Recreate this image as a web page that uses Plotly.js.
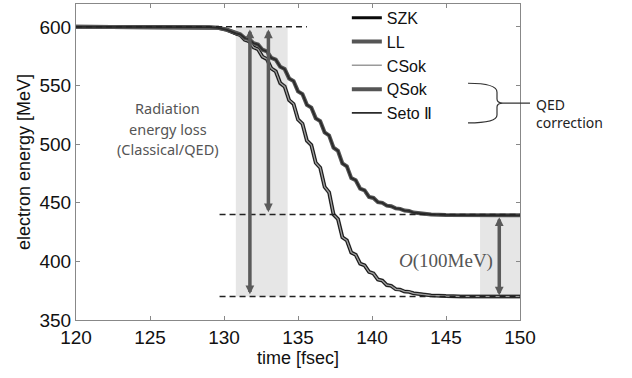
<!DOCTYPE html>
<html>
<head>
<meta charset="utf-8">
<script src="https://cdn.plot.ly/plotly-3.0.1.min.js"></script>
<style>html,body{margin:0;padding:0;background:#fff;}#chart{width:632px;height:378px;}</style>
</head>
<body>
<div id="chart"></div>
<script>
// time axis [fsec]
const timeFs = [120, 128.0, 129.0, 129.6, 130.2, 130.8, 131.1, 131.4, 131.7, 132.0, 132.3, 132.6, 132.9, 133.2, 133.5, 133.8, 134.1, 134.4, 134.7, 135.0, 135.3, 135.6, 135.9, 136.2, 136.5, 136.8, 137.1, 137.4, 137.7, 138.0, 138.3, 138.6, 138.9, 139.2, 139.5, 139.8, 140.1, 140.4, 140.7, 141.0, 141.3, 141.6, 141.9, 142.2, 142.5, 142.8, 143.4, 144.0, 145.0, 146.0, 150];
// classical radiation reaction (SZK, LL, CSok) [MeV]
const classicalEnergy = [600, 600, 599.8, 599.2, 597.5, 594.0, 593.0, 589.0, 587.7, 582.5, 580.9, 574.5, 572.5, 564.5, 562.0, 552.0, 549.1, 537.5, 534.2, 521.0, 517.4, 503.0, 499.2, 484.0, 479.9, 463.5, 458.8, 440.0, 436.1, 420.5, 417.9, 407.5, 405.6, 398.0, 396.6, 391.0, 389.7, 384.5, 383.6, 379.8, 379.1, 376.3, 375.9, 374.3, 374.0, 372.8, 371.8, 371.0, 370.4, 370.1, 370.0];
// QED corrected (QSok, Seto II) [MeV]
const qedEnergy = [600, 600, 599.8, 599.2, 597.5, 594.5, 593.7, 590.5, 589.6, 586.0, 584.9, 580.5, 579.1, 573.5, 572.0, 566.0, 564.0, 556.0, 553.8, 545.0, 542.7, 533.5, 531.2, 522.0, 519.6, 510.0, 507.4, 497.0, 494.3, 483.5, 481.0, 471.0, 469.2, 462.0, 460.6, 455.0, 454.1, 450.5, 449.9, 447.5, 447.0, 445.2, 444.8, 443.3, 443.0, 441.6, 440.6, 440.0, 439.6, 439.4, 439.3];
const seriesNames = ["SZK", "LL", "CSok", "QSok", "Seto \u2161"];
const xTicks = [120, 125, 130, 135, 140, 145, 150];
const yTicks = [350, 400, 450, 500, 550, 600];
// reference levels
const initialEnergy = 600;
const qedFinal = 440;
const classicalFinal = 370;

const traces = [
  {x: timeFs, y: classicalEnergy, name: seriesNames[1], legendrank: 2, mode: "lines", line: {color: "#555555", width: 4}},
  {x: timeFs, y: classicalEnergy, name: seriesNames[0], legendrank: 1, mode: "lines", line: {color: "#0a0a0a", width: 3}},
  {x: timeFs, y: classicalEnergy, name: seriesNames[2], legendrank: 3, mode: "lines", line: {color: "#9a9a9a", width: 1.5}},
  {x: timeFs, y: qedEnergy, name: seriesNames[3], legendrank: 4, mode: "lines", line: {color: "#555555", width: 4}},
  {x: timeFs, y: qedEnergy, name: seriesNames[4], legendrank: 5, mode: "lines", line: {color: "#2a2a2a", width: 1.8}}
];

const dash = {color: "#222", width: 1.5, dash: "6px,4px"};
const shapes = [
  {type: "rect", xref: "x", yref: "y", x0: 130.8, x1: 134.3, y0: classicalFinal, y1: initialEnergy, fillcolor: "#e6e6e6", line: {width: 0}, layer: "below"},
  {type: "rect", xref: "x", yref: "y", x0: 147.3, x1: 150, y0: classicalFinal, y1: qedFinal, fillcolor: "#e6e6e6", line: {width: 0}, layer: "below"},
  {type: "line", xref: "x", yref: "y", x0: 120, x1: 135.6, y0: initialEnergy, y1: initialEnergy, line: dash, layer: "above"},
  {type: "line", xref: "x", yref: "y", x0: 129.7, x1: 150, y0: qedFinal, y1: qedFinal, line: dash, layer: "above"},
  {type: "line", xref: "x", yref: "y", x0: 129.7, x1: 150, y0: classicalFinal, y1: classicalFinal, line: dash, layer: "above"},
  {type: "path", xref: "paper", yref: "paper",
   path: "M0.8829,0.7492 Q0.9482,0.7492 0.9482,0.7210 L0.9482,0.6991 Q0.9482,0.6865 0.9617,0.6865 Q0.9482,0.6865 0.9482,0.6740 L0.9482,0.6489 Q0.9482,0.6238 0.8829,0.6238 M0.9617,0.6865 L1.0225,0.6865",
   line: {color: "#333", width: 1.2}, layer: "above"}
];

function arrow(x, yTip, yTail) {
  return {x: x, y: yTip, ax: x, ay: yTail, xref: "x", yref: "y", axref: "x", ayref: "y",
    text: "", showarrow: true, arrowhead: 2, arrowside: "end+start", arrowsize: 0.5,
    arrowwidth: 3.5, arrowcolor: "#5a5a5a", standoff: 0, startstandoff: 0};
}

const textFont = "Noto Sans, Open Sans, sans-serif";
const annotations = [
  arrow(131.75, classicalFinal + 2, initialEnergy - 1),
  arrow(133.0, qedFinal + 2, initialEnergy - 1),
  arrow(148.6, classicalFinal + 1, qedFinal - 1),
  {x: 126.2, y: 530.5, xref: "x", yref: "y", showarrow: false, text: "Radiation",
   font: {family: textFont, size: 14.5, color: "#555"}},
  {x: 126.2, y: 513, xref: "x", yref: "y", showarrow: false, text: "energy loss",
   font: {family: textFont, size: 14.5, color: "#555"}},
  {x: 126.2, y: 495.5, xref: "x", yref: "y", showarrow: false, text: "(Classical/QED)",
   font: {family: textFont, size: 14.5, color: "#555"}},
  {x: 145.0, y: 400, xref: "x", yref: "y", showarrow: false,
   text: "<i>O</i>(100MeV)",
   font: {family: "Liberation Serif, Times New Roman, serif", size: 19, color: "#555"}},
  {x: 1.032, y: 0.652, xref: "paper", yref: "paper", xanchor: "left", showarrow: false,
   text: "QED<br>correction", align: "left",
   font: {family: textFont, size: 14, color: "#222"}}
];

const layout = {
  width: 632, height: 378,
  margin: {l: 76, r: 112, t: 1, b: 58},
  paper_bgcolor: "#fff", plot_bgcolor: "#fff",
  font: {family: "Liberation Sans, Arial, sans-serif", color: "#111"},
  showlegend: true,
  legend: {x: 0.61, y: 1.01, xanchor: "left", yanchor: "top", bgcolor: "rgba(0,0,0,0)",
    font: {family: "Liberation Sans, Arial, sans-serif", size: 16, color: "#111"}, tracegroupgap: 0},
  xaxis: {range: [120, 150], tickvals: xTicks, ticktext: xTicks.map(String), ticks: "inside", ticklen: 4, tickcolor: "#888",
    showline: true, linecolor: "#888", linewidth: 1, mirror: "ticks", showgrid: false, zeroline: false,
    tickfont: {size: 19, color: "#111"}, title: {text: "time [fsec]", font: {size: 18, color: "#111"}, standoff: 4}},
  yaxis: {range: [350, 619.5], tickvals: yTicks, ticktext: yTicks.map(String), ticks: "inside", ticklen: 4, tickcolor: "#888",
    showline: true, linecolor: "#888", linewidth: 1, mirror: "ticks", showgrid: false, zeroline: false,
    tickfont: {size: 19, color: "#111"}, title: {text: "electron energy [MeV]", font: {size: 18, color: "#111"}, standoff: 4}},
  shapes: shapes,
  annotations: annotations
};

Plotly.newPlot("chart", traces, layout, {displayModeBar: false, staticPlot: true});
</script>
</body>
</html>
